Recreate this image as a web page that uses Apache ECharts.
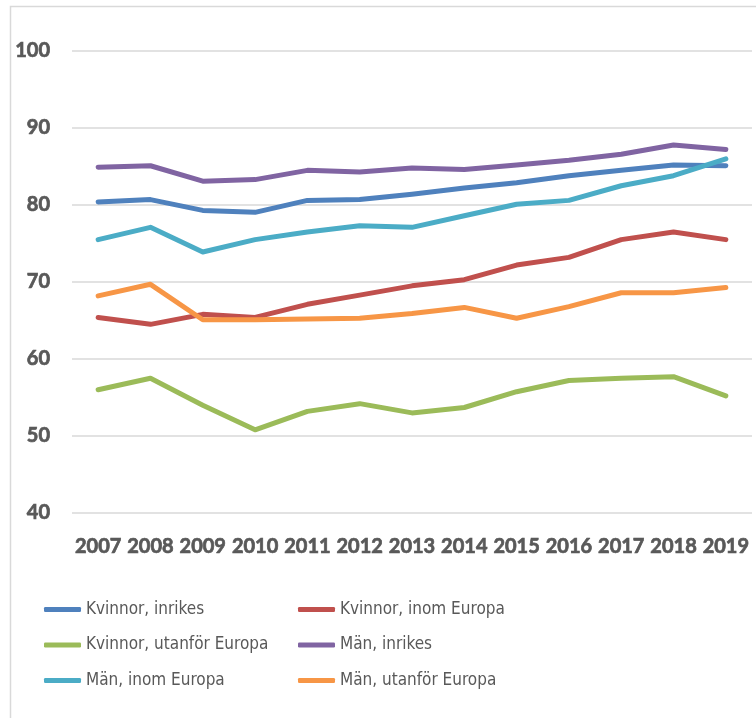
<!DOCTYPE html>
<html>
<head>
<meta charset="utf-8">
<script src="https://cdn.jsdelivr.net/npm/echarts@6/dist/echarts.min.js"></script>
<style>
html,body{margin:0;padding:0;background:#fff;}
#c{width:756px;height:718px;}
</style>
</head>
<body>
<div id="c"></div>
<script>
const years = ['2007','2008','2009','2010','2011','2012','2013','2014','2015','2016','2017','2018','2019'];
const kvinnorInrikes = [80.4,80.7,79.3,79.05,80.6,80.7,81.4,82.2,82.9,83.8,84.5,85.2,85.1];
const kvinnorInomEuropa = [65.4,64.5,65.8,65.4,67.1,68.3,69.5,70.3,72.2,73.2,75.5,76.5,75.5];
const kvinnorUtanforEuropa = [56.0,57.5,54.0,50.8,53.2,54.2,53.0,53.7,55.75,57.2,57.5,57.7,55.2];
const manInrikes = [84.9,85.1,83.1,83.3,84.5,84.3,84.8,84.6,85.2,85.8,86.6,87.8,87.2];
const manInomEuropa = [75.5,77.1,73.9,75.5,76.5,77.3,77.1,78.6,80.1,80.6,82.5,83.8,86.0];
const manUtanforEuropa = [68.2,69.7,65.1,65.1,65.2,65.3,65.9,66.7,65.3,66.8,68.6,68.6,69.3];
const yTicks = [40,50,60,70,80,90,100];

const seriesDefs = [
  ['Kvinnor, inrikes', kvinnorInrikes, '#4F81BD'],
  ['Kvinnor, inom Europa', kvinnorInomEuropa, '#C0504D'],
  ['Kvinnor, utanför Europa', kvinnorUtanforEuropa, '#9BBB59'],
  ['Män, inrikes', manInrikes, '#8064A2'],
  ['Män, inom Europa', manInomEuropa, '#4BACC6'],
  ['Män, utanför Europa', manUtanforEuropa, '#F79646']
];

const chart = echarts.init(document.getElementById('c'), null, {renderer:'canvas'});
const legendText = {fontFamily:"'DejaVu Sans Condensed',sans-serif", fontSize:17, color:'#595959'};
const legendBase = {
  orient:'vertical', itemWidth:37, itemHeight:5, itemGap:18.5, icon:'roundRect',
  textStyle:legendText, selectedMode:false, padding:0
};
const axisText = {fontFamily:'Lato', fontWeight:'bold', fontSize:20, color:'#595959', textBorderColor:'#595959', textBorderWidth:0.7};
chart.setOption({
  animation:false,
  backgroundColor:'#fff',
  graphic:[{type:'rect', shape:{x:10.5,y:6.5,width:800,height:800}, style:{fill:'none',stroke:'#D9D9D9',lineWidth:1.5}, silent:true}],
  grid:{left:72,right:4,top:51,bottom:205},
  xAxis:{
    type:'category', data:years, boundaryGap:true,
    axisLine:{show:false}, axisTick:{show:false},
    axisLabel:Object.assign({margin:24, interval:0}, axisText)
  },
  yAxis:{
    type:'value', min:yTicks[0], max:yTicks[yTicks.length-1], interval:10,
    axisLine:{show:false}, axisTick:{show:false},
    splitLine:{lineStyle:{color:'#D9D9D9', width:1.5}},
    axisLabel:Object.assign({margin:22}, axisText)
  },
  legend:[
    Object.assign({left:44, top:601, data:[seriesDefs[0][0], seriesDefs[2][0], seriesDefs[4][0]]}, legendBase),
    Object.assign({left:298, top:601, data:[seriesDefs[1][0], seriesDefs[3][0], seriesDefs[5][0]]}, legendBase)
  ],
  series: seriesDefs.map(d => ({
    name:d[0], type:'line', data:d[1], symbol:'none', smooth:false,
    lineStyle:{color:d[2], width:5, cap:'round', join:'round'},
    itemStyle:{color:d[2]}
  }))
});
</script>
</body>
</html>
